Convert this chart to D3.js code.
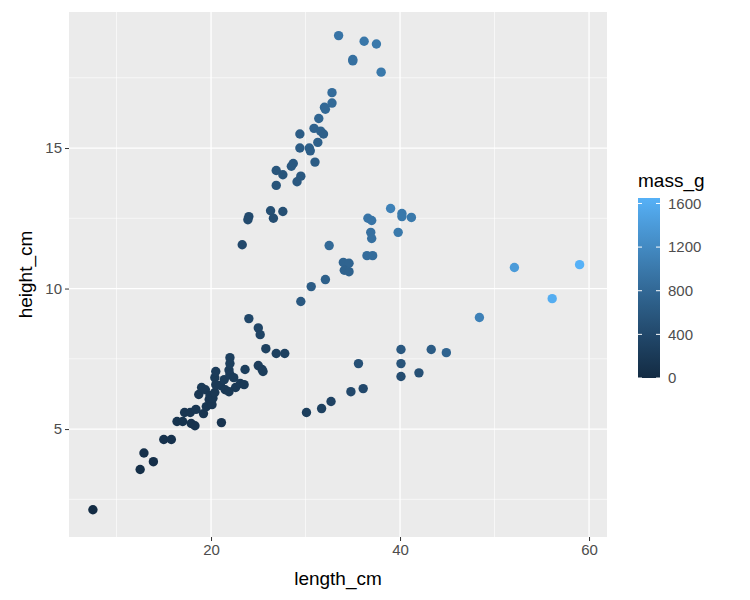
<!DOCTYPE html><html><head><script src="https://d3js.org/d3.v7.min.js"></script>
<style>body{margin:0;background:#fff}text{font-family:Arial,"Liberation Sans",sans-serif}</style></head><body>
<svg id="c" width="750" height="600"></svg>
<script>
const lengthCm=[7.5,12.5,12.9,13.9,15.0,15.8,16.4,17.0,17.2,17.8,17.9,18.3,18.4,19.2,18.7,19.0,19.4,19.5,19.8,19.9,20.1,20.2,20.4,20.4,20.5,20.5,21.0,21.1,21.4,21.5,21.9,22.0,22.0,22.0,22.4,22.6,23.1,23.5,23.6,21.9,24.0,25.0,25.2,25.0,25.4,25.5,25.8,26.9,27.8,
33.5,36.2,37.5,35.0,35.0,38.0,32.8,32.8,32.0,32.1,31.4,30.9,31.6,31.9,29.4,31.3,29.4,30.4,30.5,31.0,28.7,28.5,26.9,27.6,29.5,29.1,26.9,26.3,27.6,26.6,24.0,23.9,23.3,
32.5,39.0,36.6,37.0,40.2,40.2,41.2,36.9,37.0,39.8,36.5,37.1,34.0,34.6,34.1,34.6,32.1,30.6,29.5,52.1,59.0,56.1,48.4,
40.1,43.3,44.9,35.6,40.1,42.0,40.1,36.1,34.8,32.7,31.7,30.1];
const heightCm=[2.13,3.56,4.15,3.84,4.63,4.63,5.27,5.27,5.59,5.59,5.2,5.12,5.7,5.55,6.23,6.48,6.4,5.8,6.05,6.2,5.87,6.1,6.3,6.83,7.05,6.58,6.55,5.23,6.76,6.4,7.1,7.54,7.33,6.94,6.83,6.48,6.62,6.58,7.12,6.33,8.93,8.6,8.36,7.26,7.12,7.05,7.86,7.69,7.69,
19.0,18.8,18.7,18.15,18.1,17.7,16.97,16.6,16.45,16.38,16.05,15.7,15.6,15.5,15.5,15.2,15.0,15.0,14.9,14.5,14.45,14.35,14.2,14.05,14.0,13.8,13.67,12.77,12.74,12.5,12.56,12.45,11.56,
11.53,12.85,12.5,12.42,12.67,12.56,12.53,12.0,11.78,12.0,11.17,11.17,10.93,10.9,10.65,10.6,10.32,10.07,9.54,10.75,10.85,9.64,8.97,
7.83,7.83,7.72,7.33,7.33,7.0,6.87,6.44,6.33,5.98,5.73,5.59];
const massG=[10,50,70,60,90,90,120,120,140,140,110,110,150,140,170,190,180,150,160,170,160,170,180,220,240,200,200,130,230,190,250,280,270,240,230,200,210,210,250,190,380,350,330,260,250,250,300,300,300,
950,980,1000,900,900,1000,850,820,800,800,760,720,720,700,650,700,650,700,680,650,600,600,560,560,600,600,550,480,480,460,420,420,400,
820,1100,950,950,1000,1000,1000,900,900,1000,850,850,750,750,720,720,700,650,600,1400,1650,1600,1100,
600,650,750,500,550,500,450,400,400,320,300,270];
const xTicks=[20,40,60], yTicks=[5,10,15], xMinor=[10,30,50], yMinor=[2.5,7.5,12.5,17.5], legTicks=[0,400,800,1200,1600];
const svg=d3.select("#c");
const L=69,R=607,T=12,B=537;
const x=d3.scaleLinear().domain([4.97,61.9]).range([L,R]);
const y=d3.scaleLinear().domain([1.16,19.84]).range([B,T]);
const col=d3.scaleLinear().domain([0,1650]).range(["#132B43","#56B1F7"]).interpolate(d3.interpolateLab);
svg.append("rect").attr("x",L).attr("y",T).attr("width",R-L).attr("height",B-T).attr("fill","#EBEBEB");
const g=svg.append("g");
xMinor.forEach(v=>g.append("line").attr("x1",x(v)).attr("x2",x(v)).attr("y1",T).attr("y2",B).attr("stroke","#fff").attr("stroke-width",0.6));
yMinor.forEach(v=>g.append("line").attr("y1",y(v)).attr("y2",y(v)).attr("x1",L).attr("x2",R).attr("stroke","#fff").attr("stroke-width",0.6));
xTicks.forEach(v=>g.append("line").attr("x1",x(v)).attr("x2",x(v)).attr("y1",T).attr("y2",B).attr("stroke","#fff").attr("stroke-width",1.3));
yTicks.forEach(v=>g.append("line").attr("y1",y(v)).attr("y2",y(v)).attr("x1",L).attr("x2",R).attr("stroke","#fff").attr("stroke-width",1.3));
const xa=svg.append("g").attr("transform",`translate(0,${B})`).call(d3.axisBottom(x).tickValues(xTicks).tickSize(4).tickPadding(3));
const ya=svg.append("g").attr("transform",`translate(${L},0)`).call(d3.axisLeft(y).tickValues(yTicks).tickSize(4).tickPadding(3));
[xa,ya].forEach(a=>{a.select(".domain").remove();a.selectAll("line").attr("stroke","#333");a.selectAll("text").attr("fill","#4D4D4D").style("font-size","15px");});
svg.append("g").selectAll("circle").data(lengthCm.map((l,i)=>({l,h:heightCm[i],m:massG[i]}))).join("circle")
 .attr("cx",d=>x(d.l)).attr("cy",d=>y(d.h)).attr("r",4.7).attr("fill",d=>col(d.m));
svg.append("text").attr("x",(L+R)/2).attr("y",585).attr("text-anchor","middle").style("font-size","19px").text("length_cm");
svg.append("text").attr("transform",`translate(32,${(T+B)/2}) rotate(-90)`).attr("text-anchor","middle").style("font-size","19px").text("height_cm");
// legend
const lx=638,lw=22,ly0=378,ly1=198;
const ls=d3.scaleLinear().domain([0,1650]).range([ly0,ly1]);
const defs=svg.append("defs").append("linearGradient").attr("id","gr").attr("x1",0).attr("x2",0).attr("y1",1).attr("y2",0);
d3.range(0,1.01,0.1).forEach(t=>defs.append("stop").attr("offset",t).attr("stop-color",col(t*1650)));
svg.append("rect").attr("x",lx).attr("y",ly1).attr("width",lw).attr("height",ly0-ly1).attr("fill","url(#gr)");
legTicks.forEach(v=>{
 svg.append("line").attr("x1",lx).attr("x2",lx+4).attr("y1",ls(v)).attr("y2",ls(v)).attr("stroke","#fff");
 svg.append("line").attr("x1",lx+lw-4).attr("x2",lx+lw).attr("y1",ls(v)).attr("y2",ls(v)).attr("stroke","#fff");
 svg.append("text").attr("x",lx+lw+8).attr("y",ls(v)).attr("dy","0.35em").attr("fill","#4D4D4D").style("font-size","15px").text(v);
});
svg.append("text").attr("x",lx).attr("y",187).style("font-size","19px").text("mass_g");
</script></body></html>
